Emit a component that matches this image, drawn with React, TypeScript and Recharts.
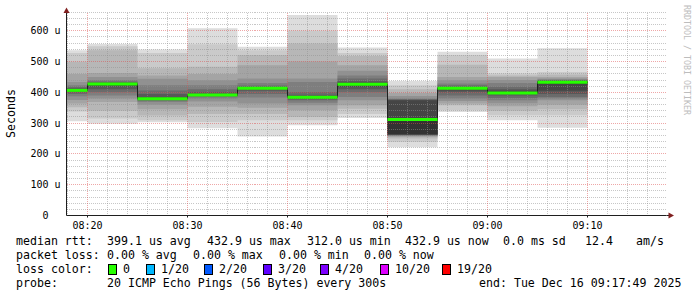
import React from 'react';
import { ComposedChart, Area, Line, XAxis, YAxis, ReferenceLine } from 'recharts';

const MONO = '"DejaVu Sans Mono", "Liberation Mono", monospace';

// time axis in minutes after 08:00
const windowMin = [17.9, 77.9];
const binStartMin = [17.9, 20, 25, 30, 35, 40, 45, 50, 55, 60, 65];
const binEndMin = 70;
const majorTimeTicks = [20, 30, 40, 50, 60, 70];
const minorTimeTicks = [18, 22, 24, 26, 28, 32, 34, 36, 38, 42, 44, 46, 48, 52, 54, 56, 58, 62, 64, 66, 68, 72, 74, 76];

// values in microseconds
const yTicks = [0, 100, 200, 300, 400, 500, 600];
const minorValueTicks = [20, 40, 60, 80, 120, 140, 160, 180, 220, 240, 260, 280, 320, 340, 360, 380, 420, 440, 460, 480, 520, 540, 560, 580, 620, 640, 660];
const yMax = 661;

const medianRtt = [406.5, 427.0, 379.0, 391.0, 413.0, 384.5, 426.0, 312.0, 413.0, 398.0, 432.9];

// 20 sorted pings per step (us)
const pingsTo0820 = [306, 338, 352, 364, 375, 387, 395, 400, 404, 406, 407, 410, 413, 418, 423, 434, 460, 499, 528, 537];
const pingsTo0825 = [298, 315, 340, 369, 380, 390, 400, 410, 420, 426, 428, 430, 432, 435, 440, 450, 463, 537, 550, 557];
const pingsTo0830 = [303, 309, 325, 345, 360, 369, 373, 376, 378, 378.5, 380, 385, 395, 406, 423, 444, 455, 478, 528, 539];
const pingsTo0835 = [283, 304, 330, 353, 370, 380, 386, 388, 390, 390, 392, 395, 400, 410, 423, 439, 460, 483, 556, 608];
const pingsTo0840 = [257, 309, 330, 350, 364, 383, 395, 405, 410, 412, 414, 416, 418, 422, 430, 445, 488, 521, 537, 548];
const pingsTo0845 = [293, 309, 320, 342, 358, 366, 374, 378, 381, 383, 386, 388, 392, 401, 434, 445, 500, 559, 600, 651];
const pingsTo0850 = [317, 330, 347, 358, 374, 385, 400, 410, 418, 424, 428, 431, 436, 445, 455, 470, 488, 518, 528, 546];
const pingsTo0855 = [222, 239, 250, 255, 258, 260, 261, 262, 263, 264, 312, 374, 376, 378, 380, 388, 398, 410, 423, 437];
const pingsTo0900 = [336, 342, 358, 364, 372, 380, 390, 400, 406, 411, 415, 415, 418, 423, 429, 439, 450, 490, 521, 532];
const pingsTo0905 = [309, 326, 340, 355, 365, 374, 382, 390, 395, 397, 400, 405, 410, 418, 430, 440, 450, 455, 461, 510];
const pingsTo0910 = [285, 326, 345, 360, 374, 380, 385, 395, 405, 428, 436, 437, 438, 440, 442, 445, 450, 458, 466, 543];

const pingSteps = [pingsTo0820, pingsTo0825, pingsTo0830, pingsTo0835, pingsTo0840, pingsTo0845, pingsTo0850, pingsTo0855, pingsTo0900, pingsTo0905, pingsTo0910];

const smokeColors = ['#dddddd', '#cacaca', '#b7b7b7', '#a4a4a4', '#919191', '#7e7e7e', '#6b6b6b', '#585858', '#454545', '#323232'];

const legendMedian = ['median rtt:', '399.1 us avg', '432.9 us max', '312.0 us min', '432.9 us now', '0.0 ms sd', '12.4', 'am/s'];
const legendLoss = ['packet loss:', '0.00 % avg', '0.00 % max', '0.00 % min', '0.00 % now'];
const lossColorTitle = 'loss color:';
const lossLabels = ['0', '1/20', '2/20', '3/20', '4/20', '10/20', '19/20'];
const lossColors = ['#26ff00', '#00b8ff', '#0059ff', '#5e00ff', '#7e00ff', '#dd00ff', '#ff0000'];
const legendProbe = ['probe:', '20 ICMP Echo Pings (56 Bytes) every 300s', 'end: Tue Dec 16 09:17:49 2025'];
const yTitle = 'Seconds';
const watermark = 'RRDTOOL / TOBI OETIKER';

// layout
const medianX = [16, 107, 207, 307, 405, 503, 585, 636];
const lossX = [16, 107, 193, 279, 364];
const lossBoxX = [108, 146, 204, 263, 320, 380, 442];
const probeX = [16, 107, 479];
const rowCenterY = [241, 255, 269, 283];

const minorGrid = 'rgba(143,143,143,0.5)';
const majorGrid = 'rgba(222,79,79,0.5)';

function buildRow(t: number, i: number) {
  const p = pingSteps[i];
  const row: any = { t, median: medianRtt[i] };
  for (let k = 0; k < 10; k++) row['s' + k] = [p[k], p[19 - k]];
  return row;
}
const rows = binStartMin.map((t, i) => buildRow(t, i)).concat([buildRow(binEndMin, binStartMin.length - 1)]);
const binEnds = binStartMin.slice(1).concat([binEndMin]);

const fmtTime = (m: number) => {
  const h = 8 + Math.floor(m / 60);
  const mm = Math.round(m % 60);
  return String(h).padStart(2, '0') + ':' + String(mm).padStart(2, '0');
};

function YTick(props: any) {
  const { x, y, payload } = props;
  const v = payload.value;
  return (
    <g>
      <text x={x - 12} y={y} dy="0.355em" textAnchor="end" fontFamily={MONO} fontSize={10} fill="#000">{String(v)}</text>
      {v !== 0 ? (
        <text x={x} y={y} dy="0.355em" textAnchor="end" fontFamily={MONO} fontSize={10} fill="#000">u</text>
      ) : null}
    </g>
  );
}

const textStyle: React.CSSProperties = {
  position: 'absolute',
  fontFamily: MONO,
  fontSize: '11.6px',
  lineHeight: '14px',
  whiteSpace: 'pre',
  color: '#000',
};

export default function App() {
  return (
    <div style={{ position: 'absolute', left: 0, top: 0, width: 697, height: 297, background: '#fff', overflow: 'hidden' }}>
      <ComposedChart width={697} height={297} data={rows} margin={{ top: 12, right: 30.5, bottom: 61.5, left: 0 }}>
        <XAxis
          dataKey="t"
          type="number"
          domain={windowMin}
          allowDataOverflow
          ticks={majorTimeTicks}
          tickFormatter={fmtTime}
          height={20}
          tickSize={2}
          tickMargin={4}
          axisLine={{ stroke: '#1f1f1f' }}
          tickLine={{ stroke: '#1f1f1f' }}
          tick={{ fill: '#000', fontSize: 10, fontFamily: MONO }}
        />
        <YAxis
          type="number"
          domain={[0, yMax]}
          allowDataOverflow
          ticks={yTicks}
          width={66.5}
          tickSize={0}
          tickMargin={6}
          tickLine={false}
          axisLine={{ stroke: '#1f1f1f' }}
          tick={<YTick />}
        />
        {smokeColors.map((c, k) => (
          <Area
            key={'s' + k}
            dataKey={'s' + k}
            type="stepAfter"
            fill={c}
            fillOpacity={1}
            stroke="none"
            dot={false}
            activeDot={false}
            isAnimationActive={false}
          />
        ))}
        {minorValueTicks.map((v) => (
          <ReferenceLine key={'my' + v} y={v} stroke={minorGrid} strokeDasharray="1 1" shapeRendering="crispEdges" />
        ))}
        {minorTimeTicks.map((v) => (
          <ReferenceLine key={'mx' + v} x={v} stroke={minorGrid} strokeDasharray="1 1" shapeRendering="crispEdges" />
        ))}
        {yTicks.slice(1).map((v) => (
          <ReferenceLine key={'My' + v} y={v} stroke={majorGrid} strokeDasharray="1 1" shapeRendering="crispEdges" />
        ))}
        {majorTimeTicks.map((v) => (
          <ReferenceLine key={'Mx' + v} x={v} stroke={majorGrid} strokeDasharray="1 1" shapeRendering="crispEdges" />
        ))}
        <Line dataKey="median" type="stepAfter" stroke="#202020" strokeWidth={1} dot={false} activeDot={false} isAnimationActive={false} />
        {medianRtt.map((m, i) => (
          <ReferenceLine
            key={'med' + i}
            segment={[{ x: binStartMin[i], y: m }, { x: binEnds[i], y: m }]}
            stroke="#26ff00"
            strokeWidth={3}
          />
        ))}
      </ComposedChart>

      <svg width={697} height={297} style={{ position: 'absolute', left: 0, top: 0, pointerEvents: 'none' }}>
        <line x1={66.5} y1={12} x2={66.5} y2={10} stroke="#1f1f1f" />
        <polygon points="66.5,7.5 63.5,13 69.5,13" fill="#801f1f" />
        <line x1={666.5} y1={215.5} x2={669} y2={215.5} stroke="#1f1f1f" />
        <polygon points="674,215.5 668.5,212.5 668.5,218.5" fill="#801f1f" />
        <text
          x={0}
          y={0}
          transform="translate(11,113.5) rotate(-90)"
          textAnchor="middle"
          dominantBaseline="central"
          fontFamily={MONO}
          fontSize={11.6}
          fill="#000"
        >
          {yTitle}
        </text>
        <text x={0} y={0} transform="translate(684,5) rotate(90)" fontFamily={MONO} fontSize={8.3} fill="#bdbdbd">
          {watermark}
        </text>
      </svg>

      {legendMedian.map((s, i) => (
        <div key={'lm' + i} style={{ ...textStyle, left: medianX[i], top: rowCenterY[0] - 7 }}>{s}</div>
      ))}
      {legendLoss.map((s, i) => (
        <div key={'ll' + i} style={{ ...textStyle, left: lossX[i], top: rowCenterY[1] - 7 }}>{s}</div>
      ))}
      <div style={{ ...textStyle, left: 16, top: rowCenterY[2] - 7 }}>{lossColorTitle}</div>
      {lossLabels.map((s, i) => (
        <React.Fragment key={'lc' + i}>
          <div
            style={{
              position: 'absolute',
              left: lossBoxX[i],
              top: rowCenterY[2] - 5,
              width: 7,
              height: 9,
              background: lossColors[i],
              border: '1px solid #000',
            }}
          />
          <div style={{ ...textStyle, left: lossBoxX[i] + 15, top: rowCenterY[2] - 7 }}>{s}</div>
        </React.Fragment>
      ))}
      {legendProbe.map((s, i) => (
        <div key={'lp' + i} style={{ ...textStyle, left: probeX[i], top: rowCenterY[3] - 7 }}>{s}</div>
      ))}
    </div>
  );
}
